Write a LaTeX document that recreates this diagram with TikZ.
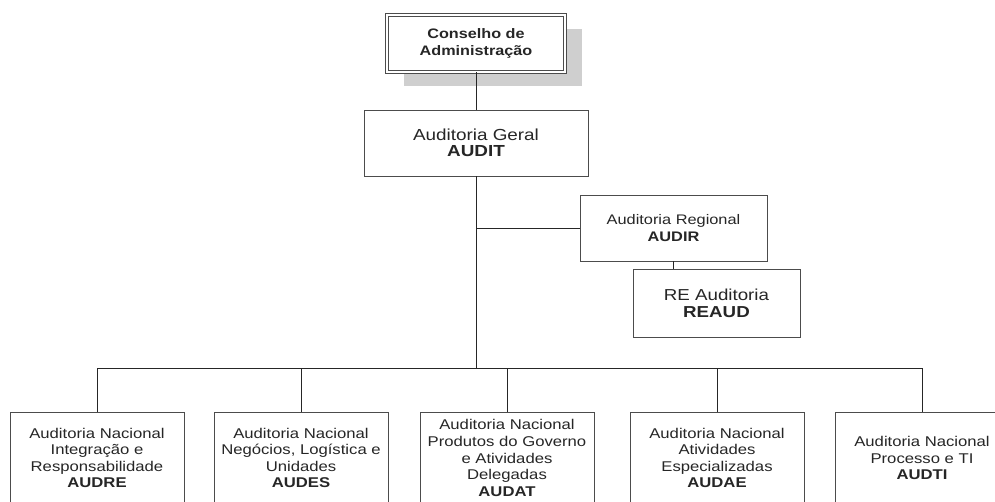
\documentclass[tikz,border=0pt]{standalone}
\usepackage{fontspec}
\setmainfont{Liberation Sans}[FakeStretch=1.18]
\usetikzlibrary{shadows}

\begin{document}
\begin{tikzpicture}[x=0.75pt, y=-0.75pt, font=\fontsize{10.6}{12.4}\selectfont]
%% coordinates are the pixel positions of the chart, y grows downwards
%% box sizes are given in pt (1px = 0.75pt)
\tikzstyle{unit}=[draw=black!70, fill=white, align=center, inner sep=0pt, text=black!85, line width=0.6pt]
\tikzstyle{board}=[unit, double, double distance=1.5pt, minimum width=133.5pt, minimum height=42.75pt, font=\fontsize{10.3}{12.5}\selectfont\bfseries, drop shadow={shadow xshift=12.75pt, shadow yshift=-10.5pt, fill=black!19, opacity=1}]
\tikzstyle{head}=[unit, minimum width=168pt, minimum height=49.5pt, font=\fontsize{12}{12}\selectfont]
\tikzstyle{region}=[unit, minimum width=140.25pt, minimum height=49.5pt, font=\fontsize{10.4}{12.5}\selectfont]
\tikzstyle{reunit}=[unit, minimum width=125.25pt, minimum height=51pt, font=\fontsize{11.9}{12.5}\selectfont]
\tikzstyle{national}=[unit, minimum width=130.5pt, minimum height=69pt]
\tikzstyle{link}=[draw=black!85, line width=0.75pt]
\useasboundingbox (0,0) rectangle (995,501);
\clip (0,0) rectangle (995,501);
%% top of the chart
\node[board] at (476,43.5) (board) {Conselho de\\Administração};
\node[head] at (476,143) (audit) {Auditoria Geral\\\textbf{AUDIT}};
\node[region] at (673.5,228) (audir) {Auditoria Regional\\\textbf{AUDIR}};
\node[reunit] at (716.5,303) (reaud) {RE Auditoria\\\textbf{REAUD}};
%% national audits, cut by the lower edge
\node[national] at (97,458) (audre) {Auditoria Nacional\\Integração e\\Responsabilidade\\\textbf{AUDRE}};
\node[national] at (301,458) (audes) {Auditoria Nacional\\Negócios, Logística e\\Unidades\\\textbf{AUDES}};
\node[national] at (507,458) (audat) {Auditoria Nacional\\Produtos do Governo\\e Atividades\\Delegadas\\\textbf{AUDAT}};
\node[national] at (717,458) (audae) {Auditoria Nacional\\Atividades\\Especializadas\\\textbf{AUDAE}};
\node[national] at (922,458) (audti) {Auditoria Nacional\\Processo e TI\\\textbf{AUDTI}};
\coordinate (bus) at (476,368);
%% connectors
\draw[link] (board.south) -- (audit.north);
\draw[link] (audit.south) -- (bus);
\draw[link] (audir.west) -- (audir.west -| audit.south);
\draw[link] (audir.south) -- (audir.south |- reaud.north);
\foreach \n in {audre,audes,audat,audae,audti}
  \draw[link] (\n.north) |- (bus);
\end{tikzpicture}
\end{document}
